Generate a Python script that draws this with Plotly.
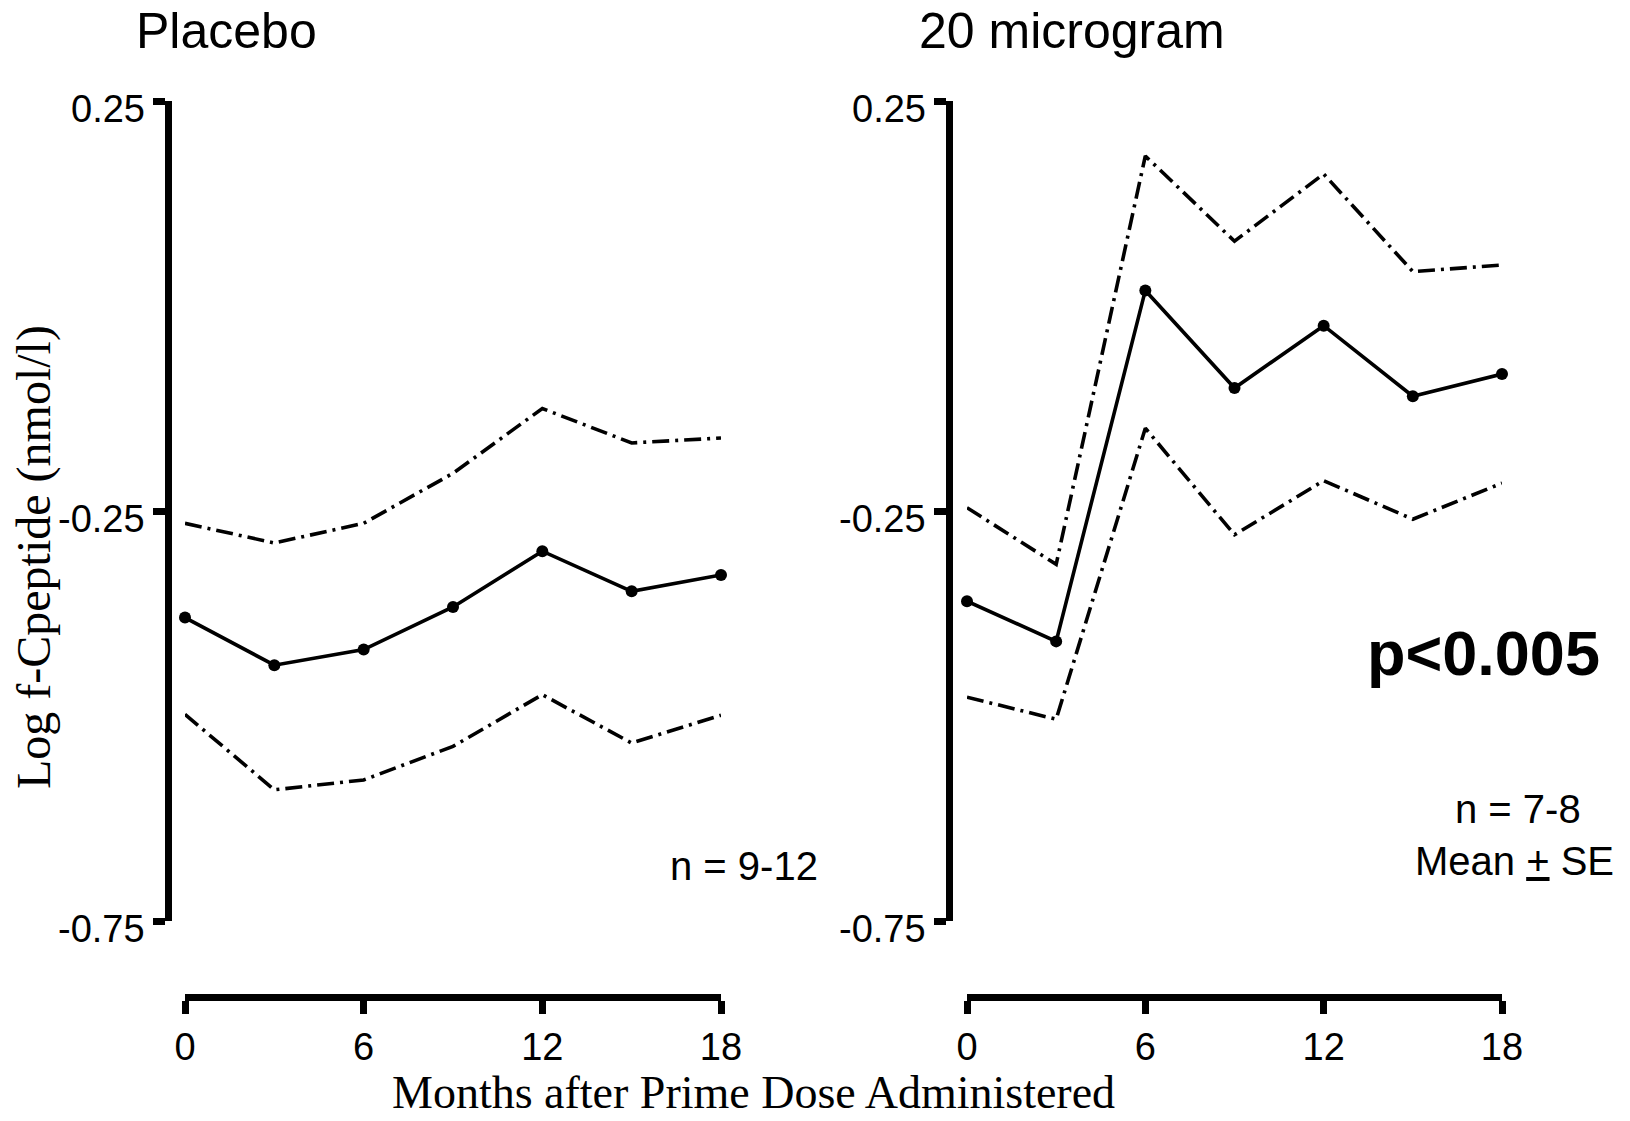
import plotly.graph_objects as go

# ---- data: log f-Cpeptide (nmol/l), mean and mean ± SE bands ----
months = [0, 3, 6, 9, 12, 15, 18]

placebo_mean = [-0.380, -0.438, -0.419, -0.367, -0.299, -0.348, -0.328]
placebo_upper = [-0.265, -0.289, -0.265, -0.204, -0.125, -0.167, -0.161]
placebo_lower = [-0.498, -0.590, -0.578, -0.537, -0.474, -0.533, -0.499]

dose_mean = [-0.360, -0.409, 0.019, -0.100, -0.024, -0.110, -0.083]
dose_upper = [-0.246, -0.315, 0.183, 0.079, 0.161, 0.042, 0.050]
dose_lower = [-0.477, -0.504, -0.149, -0.279, -0.213, -0.260, -0.216]

y_ticks = [0.25, -0.25, -0.75]
y_tick_text = ["0.25", "-0.25", "-0.75"]
x_ticks = [0, 6, 12, 18]
x_tick_text = ["0", "6", "12", "18"]

panel_titles = ["Placebo", "20 microgram"]

# ---- page geometry (pixels) ----
W, H = 1630, 1121


def px_x(x):
    return x / W


def px_y(y):
    return 1 - y / H


SANS = "Liberation Sans, Arial, Helvetica, sans-serif"
SERIF = "Liberation Serif, Times New Roman, serif"
DASHDOT = "17px,6px,3px,6px"

fig = go.Figure()


def add_panel(idx, mean, upper, lower):
    xa = "x" if idx == 1 else f"x{idx}"
    ya = "y" if idx == 1 else f"y{idx}"
    for band in (upper, lower):
        fig.add_trace(go.Scatter(
            x=months, y=band, mode="lines", xaxis=xa, yaxis=ya,
            line=dict(color="black", width=3.6, dash=DASHDOT),
            cliponaxis=False, showlegend=False, hoverinfo="skip"))
    fig.add_trace(go.Scatter(
        x=months, y=mean, mode="lines+markers", xaxis=xa, yaxis=ya,
        line=dict(color="black", width=3.6),
        marker=dict(color="black", size=12),
        cliponaxis=False, showlegend=False))


add_panel(1, placebo_mean, placebo_upper, placebo_lower)
add_panel(2, dose_mean, dose_upper, dose_lower)

y_dom = [px_y(921), px_y(101)]
x_pos = px_y(997)

common_y = dict(
    range=[-0.75, 0.25], domain=y_dom, anchor="free", automargin=False,
    showline=True, linecolor="black", linewidth=7,
    ticks="outside", ticklen=12, tickwidth=7, tickcolor="black",
    tickvals=y_ticks, showticklabels=False,
    showgrid=False, zeroline=False,
)
common_x = dict(
    range=[0, 18], anchor="free", position=x_pos, automargin=False,
    showline=True, linecolor="black", linewidth=7,
    ticks="outside", ticklen=13, tickwidth=7, tickcolor="black",
    tickvals=x_ticks, ticktext=x_tick_text,
    tickfont=dict(family=SANS, size=38, color="black"),
    showgrid=False, zeroline=False,
)

fig.update_layout(
    template="none",
    width=W, height=H,
    margin=dict(l=0, r=0, t=0, b=0, pad=0, autoexpand=False),
    paper_bgcolor="white", plot_bgcolor="white",
    showlegend=False,
    xaxis=dict(common_x, domain=[px_x(185), px_x(721)]),
    yaxis=dict(common_y, position=px_x(168)),
    xaxis2=dict(common_x, domain=[px_x(967), px_x(1502)]),
    yaxis2=dict(common_y, position=px_x(949)),
)

# y tick labels sit slightly below their tick marks
for yref, right_edge in (("y", 147), ("y2", 928)):
    for val, txt in zip(y_ticks, y_tick_text):
        fig.add_annotation(
            text=txt, x=px_x(right_edge), y=val, xref="paper", yref=yref,
            xanchor="right", yanchor="middle", yshift=-8, showarrow=False,
            font=dict(family=SANS, size=38, color="black"))


def note(text, x, y, size, family=SANS, angle=0):
    fig.add_annotation(
        text=text, x=px_x(x), y=px_y(y), xref="paper", yref="paper",
        xanchor="center", yanchor="middle", showarrow=False,
        textangle=angle, font=dict(family=family, size=size, color="black"))


note(panel_titles[0], 226, 31, 50)
note(panel_titles[1], 1072, 31, 50)
note("n = 9-12", 744, 866, 40)
note("n = 7-8", 1518, 809, 40)
note("Mean <u>+</u> SE", 1514, 861, 40)
note("<b>p&lt;0.005</b>", 1483, 653, 63)
note("Months after Prime Dose Administered", 753, 1092, 46, family=SERIF)
note("Log f-Cpeptide (nmol/l)", 34, 557, 48, family=SERIF, angle=-90)

fig.write_html("out.html")
